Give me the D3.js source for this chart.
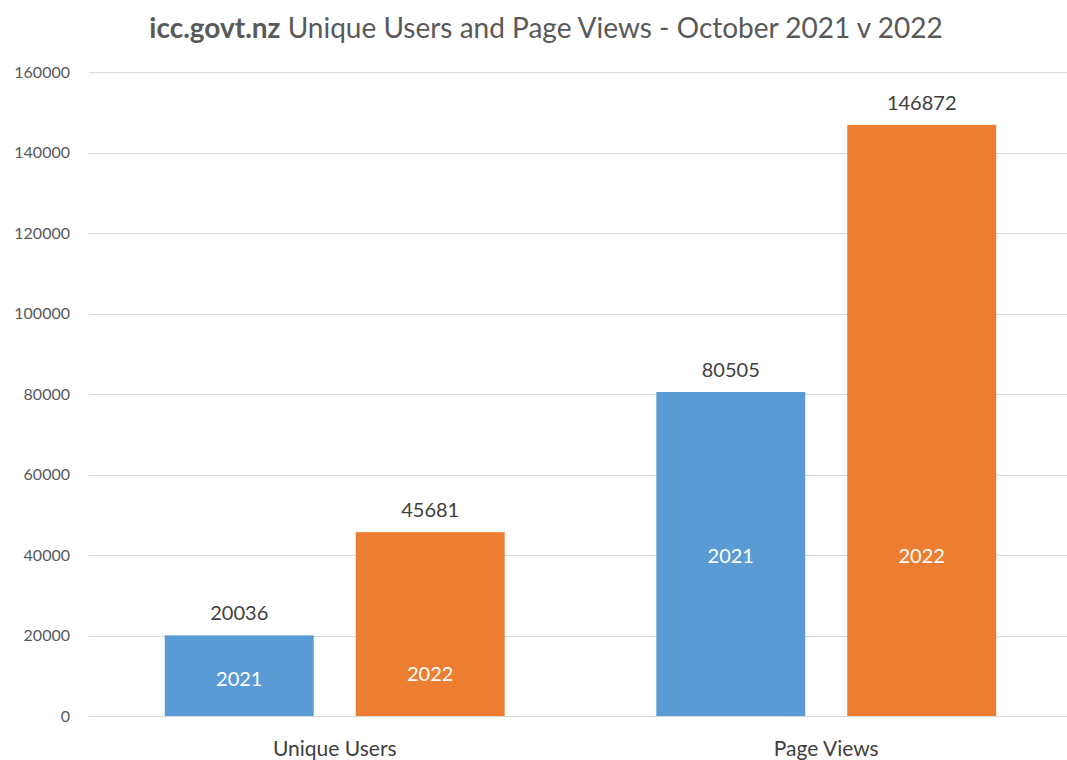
<!DOCTYPE html>
<html>
<head>
<meta charset="utf-8">
<script src="https://cdn.jsdelivr.net/npm/d3@7"></script>
<style>
  body { margin: 0; background: #fff; }
  svg { display: block; font-family: Lato, "Open Sans", sans-serif; }
</style>
</head>
<body>
<div id="chart"></div>
<script>
"use strict";

const categories = ["Unique Users", "Page Views"];
const years = ["2021", "2022"];
const values2021 = [20036, 80505];
const values2022 = [45681, 146872];
// where the in-bar year labels sit, in data units
const labelAt2021 = [9400, 40000];
const labelAt2022 = [10700, 40000];
const yTicks = [0, 20000, 40000, 60000, 80000, 100000, 120000, 140000, 160000];
const colors = ["#5b9bd5", "#ed7d31"];

const width = 1067;
const height = 760;
const margin = { top: 72, right: -5, bottom: 44, left: 89 };

const rows = categories.map((c, i) => ({
  category: c,
  bars: [
    { year: years[0], value: values2021[i], labelAt: labelAt2021[i] },
    { year: years[1], value: values2022[i], labelAt: labelAt2022[i] }
  ]
}));

const svg = d3.select("#chart")
  .append("svg")
  .attr("width", width)
  .attr("height", height)
;

const x0 = d3.scaleBand()
  .domain(categories)
  .range([margin.left, width - margin.right])
  .paddingInner(0)
  .paddingOuter(0)
;
const x1 = d3.scaleBand()
  .domain(years)
  .range([0, x0.bandwidth()])
  .paddingInner(0.22)
  .paddingOuter(0.397)
;
const y = d3.scaleLinear()
  .domain([0, 160000])
  .range([height - margin.bottom, margin.top])
;

// gridlines
svg.append("g")
  .selectAll("line")
  .data(yTicks)
  .enter()
  .append("line")
  .attr("x1", margin.left)
  .attr("x2", width)
  .attr("y1", d => Math.round(y(d)) + 0.5)
  .attr("y2", d => Math.round(y(d)) + 0.5)
  .attr("stroke", "#d9d9d9")
  .attr("stroke-width", 1)
;

// y axis labels
const yAxis = d3.axisLeft(y).tickValues(yTicks).tickFormat(d3.format("d")).tickSize(0).tickPadding(0);
svg.append("g")
  .attr("transform", "translate(70,0)")
  .call(yAxis)
  .call(g => g.select(".domain").remove())
  .call(g => g.selectAll("text")
    .attr("fill", "#595959")
    .style("font-size", "16px")
    .style("font-family", "Lato, 'Open Sans', sans-serif"))
;

// bars
const groups = svg.append("g")
  .selectAll("g")
  .data(rows)
  .enter()
  .append("g")
  .attr("transform", d => `translate(${x0(d.category)},0)`)
;

groups.selectAll("rect")
  .data(d => d.bars)
  .enter()
  .append("rect")
  .attr("x", d => x1(d.year))
  .attr("y", d => y(d.value))
  .attr("width", x1.bandwidth())
  .attr("height", d => y(0) - y(d.value))
  .attr("fill", (d, i) => colors[i])
;

groups.selectAll("text.value")
  .data(d => d.bars)
  .enter()
  .append("text")
  .attr("class", "value")
  .attr("x", d => x1(d.year) + x1.bandwidth() / 2)
  .attr("y", d => y(d.value) - 23)
  .attr("text-anchor", "middle")
  .attr("dominant-baseline", "central")
  .attr("fill", "#404040")
  .style("font-size", "20px")
  .text(d => d.value)
;

groups.selectAll("text.year")
  .data(d => d.bars)
  .enter()
  .append("text")
  .attr("class", "year")
  .attr("x", d => x1(d.year) + x1.bandwidth() / 2)
  .attr("y", d => y(d.labelAt))
  .attr("text-anchor", "middle")
  .attr("dominant-baseline", "central")
  .attr("fill", "#ffffff")
  .style("font-size", "20px")
  .text(d => d.year)
;

// category axis
const xAxis = d3.axisBottom(x0).tickSize(0).tickPadding(0);
svg.append("g")
  .attr("transform", `translate(0,${height - margin.bottom + 31})`)
  .call(xAxis)
  .call(g => g.select(".domain").remove())
  .call(g => g.selectAll("text")
    .attr("fill", "#404040")
    .attr("dy", "0")
    .attr("dominant-baseline", "central")
    .style("font-size", "21px")
    .style("font-family", "Lato, 'Open Sans', sans-serif"))
;

// title
const title = svg.append("text")
  .attr("x", 546)
  .attr("y", 27)
  .attr("text-anchor", "middle")
  .attr("dominant-baseline", "central")
  .attr("fill", "#595959")
  .style("font-size", "28px")
;
title.append("tspan").style("font-weight", "bold").text("icc.govt.nz");
title.append("tspan").text(" Unique Users and Page Views - October 2021 v 2022");
</script>
</body>
</html>
